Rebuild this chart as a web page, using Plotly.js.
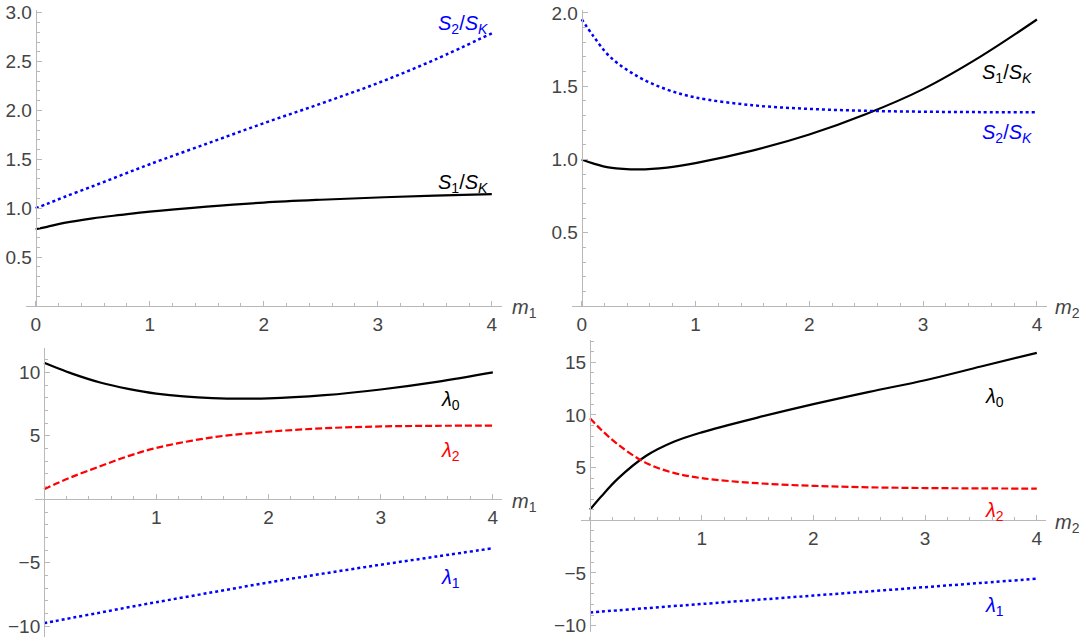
<!DOCTYPE html>
<html>
<head>
<meta charset="utf-8">
<script src="https://cdn.plot.ly/plotly-3.0.1.min.js"></script>
<style>body{margin:0;background:#fff}#plot{width:1084px;height:641px}</style>
</head>
<body>
<div id="plot"></div>
<script>
// sample points along m1 / m2
var m = [0, 0.1, 0.25, 0.5, 0.75, 1, 1.5, 2, 2.5, 3, 3.5, 4];

// top left: S1/SK and S2/SK against m1
var s1_m1 = [0.785, 0.81, 0.85, 0.897, 0.932, 0.965, 1.016, 1.058, 1.087, 1.11, 1.13, 1.145];
var s2_m1 = [1.0, 1.045, 1.115, 1.225, 1.338, 1.45, 1.66, 1.87, 2.07, 2.28, 2.52, 2.79];

// top right: S1/SK and S2/SK against m2
var s1_m2 = [1.0, 0.973, 0.944, 0.932, 0.944, 0.975, 1.06, 1.17, 1.31, 1.48, 1.70, 1.955];
var s2_m2 = [1.957, 1.845, 1.70, 1.563, 1.477, 1.423, 1.37, 1.345, 1.332, 1.326, 1.323, 1.322];

// bottom left: lambdas against m1
var lam0_m1 = [10.75, 10.4, 9.9, 9.2, 8.7, 8.33, 7.97, 7.95, 8.2, 8.65, 9.25, 10.0];
var lam2_m1 = [0.8, 1.2, 1.77, 2.6, 3.4, 4.05, 4.88, 5.32, 5.6, 5.74, 5.79, 5.8];
var lam1_m1 = [-9.75, -9.58, -9.33, -8.92, -8.5, -8.1, -7.32, -6.55, -5.83, -5.15, -4.5, -3.85];

// bottom right: lambdas against m2
var lam0_m2 = [1.0, 2.25, 3.95, 6.1, 7.45, 8.35, 9.75, 11.03, 12.2, 13.3, 14.6, 15.9];
var lam2_m2 = [9.68, 8.6, 7.2, 5.45, 4.5, 4.0, 3.52, 3.27, 3.13, 3.06, 3.03, 3.0];
var lam1_m2 = [-8.75, -8.67, -8.55, -8.35, -8.15, -7.95, -7.55, -7.15, -6.75, -6.35, -5.95, -5.55];

// tick labels
var xTop = [0, 1, 2, 3, 4];
var xBottom = [1, 2, 3, 4];
var yTL = [0.5, 1, 1.5, 2, 2.5, 3];
var yTLText = ['0.5', '1.0', '1.5', '2.0', '2.5', '3.0'];
var yTR = [0.5, 1, 1.5, 2];
var yTRText = ['0.5', '1.0', '1.5', '2.0'];
var yBL = [-10, -5, 5, 10];
var yBR = [-10, -5, 5, 10, 15];
var yBLText = ['\u221210', '\u22125', '5', '10'];
var yBRText = ['\u221210', '\u22125', '5', '10', '15'];

var W = 1084, H = 641;
var axisGray = '#b8b8b8';
var tickFont = {family: 'Liberation Sans, Arial, sans-serif', size: 19, color: '#444'};

function xdom(p0, p1) { return [p0 / W, p1 / W]; }
function ydom(p0, p1) { return [1 - p1 / H, 1 - p0 / H]; }
function zeroPos(dom, range) {
  return dom[0] + (0 - range[0]) / (range[1] - range[0]) * (dom[1] - dom[0]);
}

function xAxis(dom, range, tv, tt, ydomain, yrange) {
  return {
    domain: dom, range: range, anchor: 'free', position: zeroPos(ydomain, yrange),
    showline: true, linecolor: axisGray, linewidth: 1,
    showgrid: false, zeroline: false,
    tickmode: 'array', tickvals: tv, ticktext: tt,
    ticks: 'inside', ticklen: 5, tickcolor: axisGray, tickwidth: 1,
    ticklabelstandoff: 1,
    minor: {tickmode: 'linear', tick0: 0, dtick: 0.2, ticks: 'inside', ticklen: 3, tickcolor: axisGray, showgrid: false},
    tickfont: tickFont, fixedrange: true
  };
}
function yAxis(dom, range, tv, tt, xdomain, xrange, minorStep) {
  return {
    domain: dom, range: range, anchor: 'free', position: zeroPos(xdomain, xrange),
    showline: true, linecolor: axisGray, linewidth: 1,
    showgrid: false, zeroline: false,
    tickmode: 'array', tickvals: tv, ticktext: tt,
    ticks: 'inside', ticklen: 5, tickcolor: axisGray, tickwidth: 1,
    minor: {tickmode: 'linear', tick0: 0, dtick: minorStep, ticks: 'inside', ticklen: 3, tickcolor: axisGray, showgrid: false},
    tickfont: tickFont, fixedrange: true
  };
}

var xr = [-0.085, 4.085];
var dTLx = xdom(26, 501.5), dTLy = ydom(9.8, 306), rTLy = [0, 3.03];
var dTRx = xdom(572, 1046.6), dTRy = ydom(10, 306), rTRy = [0, 2.02];
var dBLx = xdom(34.5, 502.4), dBLy = ydom(348.2, 636.5), rBLy = [-10.8, 11.9];
var dBRx = xdom(580.5, 1046.3), dBRy = ydom(340.2, 631.9), rBRy = [-10.6, 17.1];

function line(x, y, xa, ya, color, dash, width) {
  return {x: x, y: y, xaxis: xa, yaxis: ya, type: 'scatter', mode: 'lines',
    line: {color: color, dash: dash, width: width, shape: 'spline', smoothing: 1},
    hoverinfo: 'skip', showlegend: false};
}

var blue = '#0000ff', red = '#ff0000', black = '#000000';
var dashed = '7px,3px';

var data = [
  line(m, s1_m1, 'x', 'y', black, 'solid', 2.2),
  line(m, s2_m1, 'x', 'y', blue, 'dot', 2.5),
  line(m, s1_m2, 'x2', 'y2', black, 'solid', 2.2),
  line(m, s2_m2, 'x2', 'y2', blue, 'dot', 2.5),
  line(m, lam0_m1, 'x3', 'y3', black, 'solid', 2.2),
  line(m, lam2_m1, 'x3', 'y3', red, dashed, 2.2),
  line(m, lam1_m1, 'x3', 'y3', blue, 'dot', 2.5),
  line(m, lam0_m2, 'x4', 'y4', black, 'solid', 2.2),
  line(m, lam2_m2, 'x4', 'y4', red, dashed, 2.2),
  line(m, lam1_m2, 'x4', 'y4', blue, 'dot', 2.5)
];

var labFont = {family: 'Liberation Sans, Arial, sans-serif', size: 20};
function lab(text, xa, ya, x, y, color) {
  return {text: text, xref: xa, yref: ya, x: x, y: y, showarrow: false,
    xanchor: 'center', yanchor: 'middle', font: Object.assign({}, labFont, {color: color})};
}
// axis names sit outside the data range, so they go in paper coordinates (pixels)
function mlab(text, px, py) {
  return {text: text, xref: 'paper', yref: 'paper', x: px / W, y: 1 - py / H, showarrow: false,
    xanchor: 'left', yanchor: 'middle',
    font: Object.assign({}, labFont, {color: '#444'})};
}
var S1 = '<i>S</i><sub>1</sub>/<i>S</i><sub><i>K</i></sub>';
var S2 = '<i>S</i><sub>2</sub>/<i>S</i><sub><i>K</i></sub>';

var annotations = [
  lab(S2, 'x', 'y', 3.75, 2.88, blue),
  lab(S1, 'x', 'y', 3.75, 1.25, black),
  lab(S1, 'x2', 'y2', 3.74, 1.59, black),
  lab(S2, 'x2', 'y2', 3.74, 1.18, blue),
  lab('<i>\u03bb</i><sub>0</sub>', 'x3', 'y3', 3.62, 7.8, black),
  lab('<i>\u03bb</i><sub>2</sub>', 'x3', 'y3', 3.62, 3.8, red),
  lab('<i>\u03bb</i><sub>1</sub>', 'x3', 'y3', 3.62, -6.2, blue),
  lab('<i>\u03bb</i><sub>0</sub>', 'x4', 'y4', 3.62, 11.7, black),
  lab('<i>\u03bb</i><sub>2</sub>', 'x4', 'y4', 3.62, 0.8, red),
  lab('<i>\u03bb</i><sub>1</sub>', 'x4', 'y4', 3.62, -8.2, blue),
  mlab('<i>m</i><sub>1</sub>', 510, 309),
  mlab('<i>m</i><sub>2</sub>', 1053, 309),
  mlab('<i>m</i><sub>1</sub>', 510, 502),
  mlab('<i>m</i><sub>2</sub>', 1053, 523)
];

var layout = {
  width: W, height: H,
  margin: {l: 0, r: 0, t: 0, b: 0},
  paper_bgcolor: '#fff', plot_bgcolor: 'rgba(0,0,0,0)',
  showlegend: false,
  xaxis: xAxis(dTLx, xr, xTop, xTop.map(String), dTLy, rTLy),
  yaxis: yAxis(dTLy, rTLy, yTL, yTLText, dTLx, xr, 0.1),
  xaxis2: xAxis(dTRx, xr, xTop, xTop.map(String), dTRy, rTRy),
  yaxis2: yAxis(dTRy, rTRy, yTR, yTRText, dTRx, xr, 0.1),
  xaxis3: xAxis(dBLx, xr, xBottom, xBottom.map(String), dBLy, rBLy),
  yaxis3: yAxis(dBLy, rBLy, yBL, yBLText, dBLx, xr, 1),
  xaxis4: xAxis(dBRx, xr, xBottom, xBottom.map(String), dBRy, rBRy),
  yaxis4: yAxis(dBRy, rBRy, yBR, yBRText, dBRx, xr, 1),
  annotations: annotations
};

Plotly.newPlot('plot', data, layout, {displayModeBar: false, staticPlot: true});
</script>
</body>
</html>
